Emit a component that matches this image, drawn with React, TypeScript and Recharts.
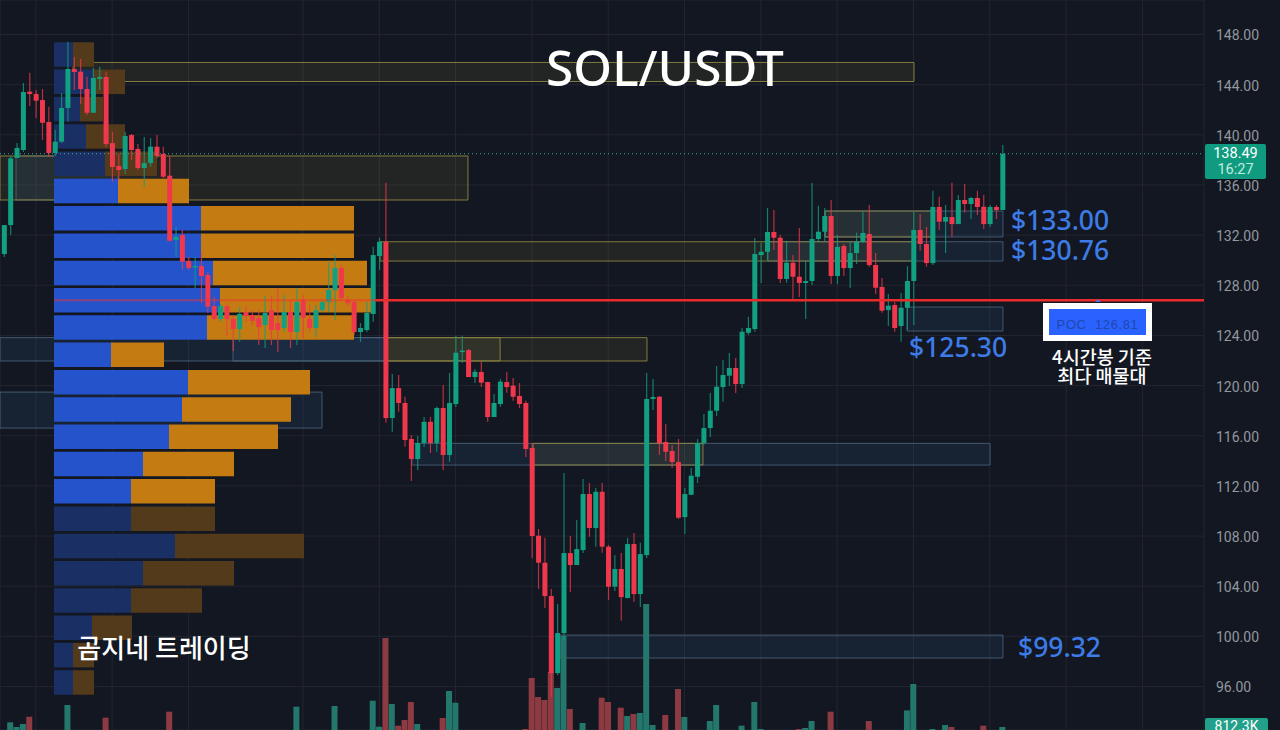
import { Bar, CartesianGrid, Cell, ComposedChart, ReferenceArea, ReferenceLine, XAxis, YAxis } from "recharts";

const opens = [
  130.49, 132.8, 138.15, 138.79, 143.44, 143.25, 142.77, 141.02, 138.55, 139.45,
  142.14, 145.25, 145.03, 143.65, 141.76, 144.45, 144.61, 139.34, 137.51, 137.27,
  139.98, 138.87, 137.35, 137.75, 139.05, 138.47, 136.74, 131.61, 132.01, 129.93,
  129.45, 129.53, 128.82, 126.34, 125.31, 126.34, 125.31, 124.51, 125.87, 125.63,
  125.39, 124.83, 126.02, 124.99, 124.59, 125.87, 124.27, 126.82, 125.31, 124.59,
  126.02, 126.66, 127.62, 129.37, 126.82, 126.66, 124.27, 124.43, 125.71, 130.33,
  131.47, 117.41, 119.8, 118.61, 115.74, 114.14, 115.42, 117.11, 115.42, 118.21,
  114.46, 118.53, 122.67, 122.83, 120.68, 121.08, 120.28, 117.49, 118.53, 120.28,
  119.99, 119.17, 118.61, 115.02, 108.02, 105.87, 103.21, 97.07, 100.26, 106.64,
  105.69, 106.88, 111.35, 108.64, 111.53, 107.15, 103.96, 105.37, 103.05, 107.36,
  103.37, 106.48, 118.93, 119.11, 115.5, 114.78, 113.9, 109.51, 111.29, 112.73,
  115.42, 116.61, 117.99, 119.88, 120.79, 121.4, 120.12, 124.21, 124.51, 130.41,
  130.67, 132.25, 131.79, 128.5, 129.8, 128.68, 128.18, 128.34, 131.69, 132.27,
  133.52, 128.74, 131.13, 129.37, 130.57, 131.47, 132.09, 129.61, 127.86, 126.02,
  126.42, 124.75, 126.21, 128.34, 132.41, 131.29, 129.77, 134.24, 133.07, 133.44,
  132.88, 134.8, 134.48, 134.96, 134.26, 132.88, 134.24, 134.0,
];
const closes = [
  132.8, 138.12, 138.95, 143.41, 143.25, 142.72, 140.96, 138.55, 139.45, 142.14,
  145.25, 145.01, 143.65, 141.76, 144.53, 144.61, 139.26, 137.43, 137.19, 139.9,
  138.79, 137.35, 137.75, 139.05, 138.31, 136.66, 131.55, 131.87, 129.88, 129.37,
  129.53, 128.74, 126.29, 125.31, 126.34, 125.31, 124.51, 125.71, 125.55, 125.15,
  124.67, 125.79, 124.43, 124.43, 125.87, 124.27, 126.66, 125.39, 124.59, 126.02,
  126.66, 127.62, 129.37, 126.98, 126.58, 124.27, 124.59, 125.79, 130.41, 131.47,
  117.41, 119.8, 118.61, 115.66, 114.14, 115.42, 117.11, 115.42, 118.21, 114.46,
  118.61, 122.62, 122.79, 120.68, 121.1, 120.23, 117.49, 118.61, 120.31, 119.88,
  119.11, 118.53, 114.94, 108.0, 105.87, 103.21, 97.07, 100.26, 106.64, 105.69,
  106.96, 111.35, 108.64, 111.53, 107.15, 103.96, 105.37, 103.13, 107.36, 103.37,
  106.56, 118.93, 119.09, 115.42, 114.72, 113.9, 109.46, 111.35, 112.81, 115.42,
  116.61, 117.99, 119.91, 120.84, 121.4, 120.12, 124.29, 124.59, 130.49, 130.67,
  132.25, 131.79, 128.5, 129.8, 128.68, 128.18, 128.34, 131.69, 132.27, 133.52,
  128.74, 131.07, 129.37, 130.57, 131.47, 132.17, 129.61, 127.8, 125.97, 126.37,
  124.59, 126.21, 128.34, 132.41, 131.29, 129.77, 134.24, 133.07, 133.44, 132.88,
  134.8, 134.48, 134.96, 134.24, 132.88, 134.24, 134.0, 138.49,
];
const highs = [
  132.8, 138.31, 139.34, 144.13, 144.95, 143.57, 143.65, 142.24, 140.38, 143.33,
  147.42, 146.2, 146.04, 144.63, 145.33, 145.43, 145.03, 140.25, 138.47, 140.25,
  140.06, 139.26, 139.82, 139.74, 139.98, 139.05, 138.31, 132.67, 132.41, 130.28,
  130.28, 130.57, 129.08, 127.09, 126.5, 126.58, 125.55, 126.26, 126.34, 126.02,
  126.02, 127.14, 127.14, 127.78, 127.22, 126.82, 127.78, 127.22, 126.42, 126.42,
  126.82, 129.85, 130.41, 129.61, 127.14, 126.82, 124.99, 126.66, 131.07, 131.79,
  136.18, 120.92, 120.84, 119.11, 116.05, 115.97, 117.49, 117.51, 118.31, 120.04,
  121.0, 123.95, 123.97, 122.91, 121.32, 121.9, 120.31, 119.32, 120.52, 121.1,
  120.6, 120.2, 118.79, 115.42, 108.56, 107.86, 103.77, 102.58, 113.02, 108.0,
  109.27, 112.55, 112.23, 111.83, 112.23, 107.28, 106.48, 106.64, 107.86, 108.24,
  107.46, 121.0, 120.52, 119.17, 116.93, 115.26, 115.74, 111.83, 113.42, 115.74,
  117.73, 119.41, 121.56, 122.04, 122.59, 122.2, 124.59, 125.49, 131.77, 131.39,
  134.16, 134.0, 132.01, 131.55, 130.41, 132.56, 129.96, 136.15, 134.34, 134.16,
  134.8, 132.01, 131.29, 131.47, 132.19, 133.87, 134.4, 130.57, 128.58, 127.3,
  126.66, 127.38, 129.53, 133.87, 133.68, 132.64, 135.54, 135.06, 134.4, 136.18,
  135.2, 136.07, 135.04, 135.54, 135.2, 134.4, 134.4, 139.18,
];
const lows = [
  130.25, 132.01, 138.15, 138.63, 142.3, 141.34, 139.58, 138.25, 138.31, 139.34,
  141.04, 143.57, 142.46, 141.58, 141.74, 143.57, 139.05, 136.26, 136.39, 136.87,
  137.99, 137.19, 135.86, 137.45, 138.15, 136.55, 131.47, 130.28, 129.22, 129.22,
  127.78, 126.58, 125.79, 125.23, 125.07, 123.95, 122.75, 123.5, 125.07, 124.83,
  123.23, 122.99, 123.23, 122.67, 124.27, 122.99, 123.23, 123.79, 124.27, 123.87,
  125.87, 125.87, 125.23, 126.74, 126.34, 124.03, 123.47, 124.27, 125.09, 129.22,
  117.04, 116.32, 117.91, 115.12, 112.39, 113.26, 115.12, 114.62, 114.72, 113.26,
  113.92, 118.29, 121.82, 120.68, 120.2, 119.88, 117.11, 117.49, 118.31, 119.43,
  118.79, 118.21, 114.3, 106.24, 103.77, 102.26, 95.18, 96.91, 99.7, 103.53,
  105.69, 106.64, 107.94, 107.15, 106.67, 102.89, 103.61, 101.24, 103.05, 102.73,
  102.34, 106.24, 118.05, 114.46, 113.98, 113.42, 109.35, 108.16, 111.29, 112.23,
  115.26, 115.9, 117.57, 118.71, 119.96, 119.4, 119.8, 124.03, 124.29, 128.18,
  129.96, 130.81, 128.18, 128.2, 126.82, 127.06, 125.31, 128.02, 131.47, 131.47,
  128.1, 128.1, 128.74, 127.78, 129.69, 131.37, 129.48, 127.3, 125.81, 124.75,
  124.29, 123.5, 124.43, 124.83, 130.75, 129.48, 129.61, 132.41, 130.57, 131.87,
  132.88, 133.79, 133.28, 133.6, 132.49, 132.67, 133.28, 134.0,
];
// volume in K; the pane is cut off by the crop so small bars don't show
const volumes = [
  0, 2080, 810, 1620, 3590, 0, 0, 0, 0, 0,
  6750, 0, 0, 0, 0, 0, 3320, 0, 0, 0,
  0, 0, 0, 0, 0, 0, 4940, 0, 0, 0,
  0, 0, 0, 0, 0, 0, 0, 0, 0, 0,
  0, 0, 0, 0, 0, 0, 6290, 0, 0, 0,
  0, 0, 6480, 0, 0, 0, 0, 0, 7910, 890,
  24840, 7020, 1160, 2700, 7560, 1620, 0, 0, 0, 3240,
  10530, 7370, 0, 0, 0, 0, 0, 0, 0, 0,
  0, 0, 270, 14040, 8910, 8100, 15660, 11340, 25380, 5670,
  0, 1890, 0, 0, 8720, 7560, 0, 6020, 3780, 4320,
  4590, 34020, 1350, 0, 4050, 0, 11070, 3510, 0, 0,
  0, 2430, 6750, 0, 0, 0, 1160, 0, 7560, 270,
  0, 0, 0, 0, 0, 270, 540, 2430, 0, 0,
  4940, 0, 0, 0, 0, 0, 2430, 0, 0, 0,
  0, 0, 5290, 12420, 0, 0, 270, 0, 1350, 810,
  0, 0, 0, 0, 1160, 0, 0, 812,
];

const priceTicks = [148, 144, 140, 136, 132, 128, 124, 120, 116, 112, 108, 104, 100, 96];
const timeTicks = [5, 17, 29, 47, 59, 71, 83, 95, 107, 119, 131, 143, 155, 167, 179];

// volume profile rows, top to bottom
const profileLevels = [
  146.4, 144.2, 142.0, 139.8, 137.7, 135.5, 133.3, 131.1, 128.9, 126.8, 124.6, 122.4,
  120.2, 118.1, 115.9, 113.7, 111.5, 109.3, 107.1, 105.0, 102.8, 100.6, 98.4, 96.2,
];
const profileUp = [19, 39, 26, 32, 51, 64, 147, 147, 159, 166, 153, 57, 134, 128, 115, 89, 77, 77, 121, 89, 77, 38, 19, 19];
const profileDown = [21, 32, 23, 39, 52, 71, 153, 153, 154, 151, 147, 53, 122, 109, 109, 91, 84, 84, 129, 91, 71, 40, 21, 21];
const profileDim = [1, 1, 1, 1, 1, 0, 0, 0, 0, 0, 0, 0, 0, 0, 0, 0, 0, 1, 1, 1, 1, 1, 1, 1];

// [candle from, candle to, price top, price bottom]
const goldZones = [
  [10.85, 143.08, 145.77, 144.25],
  [-0.63, 72.95, 138.31, 134.8],
  [59.12, 143.24, 131.47, 129.93],
  [129.09, 145.91, 133.92, 131.85],
  [60.22, 78.0, 123.82, 121.96],
  [60.22, 101.1, 123.82, 121.96],
  [83.18, 109.9, 115.39, 113.66],
];
const blueZones = [
  [1.89, 17.92, 138.31, 134.8],
  [-0.63, 59.9, 123.82, 121.96],
  [36.0, 59.9, 123.82, 121.96],
  [-0.63, 50.0, 119.48, 116.61],
  [64.15, 155.04, 115.39, 113.66],
  [87.42, 157.07, 100.1, 98.27],
  [120.13, 157.07, 131.47, 129.93],
  [129.09, 157.07, 133.92, 131.85],
  [141.98, 157.07, 126.26, 124.35],
];

const POC = 126.81;
const LAST_PRICE = 138.49;

const candles = opens.map((open, i) => ({
  index: i,
  open,
  close: closes[i],
  high: highs[i],
  low: lows[i],
  volume: volumes[i],
}));
const profile = profileLevels.map((level, i) => ({
  level,
  up: profileUp[i],
  down: profileDown[i],
  dim: profileDim[i] === 1,
}));

const W = 1280;
const H = 730;
const AXIS_W = 76;
const X_DOMAIN: [number, number] = [-0.63, 188.68];
const PRICE_DOMAIN: [number, number] = [92.53, 150.75];

const GREEN = "#12a083";
const RED = "#f0384c";

function Candle(props: any) {
  const { x, y, width, height, payload } = props;
  const up = payload.close >= payload.open;
  const color = up ? GREEN : RED;
  const perUnit = height / (payload.high - payload.low);
  const top = y + (payload.high - Math.max(payload.open, payload.close)) * perUnit;
  const bodyH = Math.max(Math.abs(payload.open - payload.close) * perUnit, 1.5);
  const mid = x + width / 2;
  return (
    <g>
      <line x1={mid} x2={mid} y1={y} y2={y + height} stroke={color} strokeWidth={1.2} strokeOpacity={0.75} />
      <rect x={x} y={top} width={width} height={bodyH} fill={color} />
    </g>
  );
}

const layer = { position: "absolute", left: 0, top: 0 } as const;
const sans = '"Noto Sans", sans-serif';
const cjk = '"Noto Sans CJK KR", sans-serif';

function Note(props: { x: number; y: number; size: number; color?: string; font?: string; weight?: number; center?: boolean; children: any }) {
  const { x, y, size, color = "#3d7be6", font = sans, weight = 500, center, children } = props;
  return (
    <div
      style={{
        position: "absolute",
        left: x,
        top: y,
        transform: `translate(${center ? "-50%" : "0"}, -50%)`,
        fontFamily: font,
        fontSize: size,
        fontWeight: weight,
        lineHeight: 1,
        color,
        whiteSpace: "nowrap",
      }}
    >
      {children}
    </div>
  );
}

export default function App() {
  return (
    <div style={{ ...layer, width: W, height: H, background: "#131722", overflow: "hidden" }}>
      {/* grid, price scale, volume pane, zones */}
      <ComposedChart style={layer} width={W} height={H} data={candles} margin={{ top: 0, right: 0, bottom: 0, left: 0 }}>
        <CartesianGrid yAxisId="price" stroke="#23262f" strokeWidth={1} />
        <XAxis type="number" dataKey="index" domain={X_DOMAIN} ticks={timeTicks} allowDataOverflow hide />
        <YAxis
          yAxisId="price"
          orientation="right"
          width={AXIS_W}
          domain={PRICE_DOMAIN}
          ticks={priceTicks}
          allowDataOverflow
          axisLine={false}
          tickLine={false}
          tickMargin={6}
          tickFormatter={(v: number) => v.toFixed(2)}
          tick={{ fill: "#94979f", fontSize: 14, fontFamily: "Roboto, sans-serif", textAnchor: "start", dy: 1 }}
        />
        <YAxis yAxisId="vol" domain={[0, 197100]} allowDataOverflow hide />
        {blueZones.map(([x1, x2, y1, y2], i) => (
          <ReferenceArea
            key={`b${i}`}
            yAxisId="price"
            x1={x1}
            x2={x2}
            y1={y1}
            y2={y2}
            fill="#3c74b8"
            fillOpacity={0.12}
            stroke="#4f6880"
            strokeOpacity={0.8}
            ifOverflow="hidden"
          />
        ))}
        {goldZones.map(([x1, x2, y1, y2], i) => (
          <ReferenceArea
            key={`g${i}`}
            yAxisId="price"
            x1={x1}
            x2={x2}
            y1={y1}
            y2={y2}
            fill="#b5ab45"
            fillOpacity={0.1}
            stroke="#8d8642"
            strokeOpacity={0.9}
            ifOverflow="hidden"
          />
        ))}
        <Bar yAxisId="vol" dataKey="volume" barSize={6} isAnimationActive={false}>
          {candles.map((c) => (
            <Cell key={c.index} fill={c.close >= c.open ? "#23776c" : "#8e3a42"} />
          ))}
        </Bar>
      </ComposedChart>

      {/* volume profile */}
      <ComposedChart
        style={layer}
        width={W}
        height={H}
        layout="vertical"
        data={profile}
        margin={{ top: 41.3, right: AXIS_W, bottom: 33.5, left: 54 }}
      >
        <XAxis type="number" domain={[0, 1150]} allowDataOverflow hide />
        <YAxis type="category" dataKey="level" hide />
        <Bar dataKey="up" stackId="profile" barSize={24.5} isAnimationActive={false}>
          {profile.map((row) => (
            <Cell key={row.level} fill={row.dim ? "#1a2f63" : "#2453cb"} />
          ))}
        </Bar>
        <Bar dataKey="down" stackId="profile" barSize={24.5} isAnimationActive={false}>
          {profile.map((row) => (
            <Cell key={row.level} fill={row.dim ? "#533a1b" : "#c47b12"} />
          ))}
        </Bar>
      </ComposedChart>

      {/* candles and levels */}
      <ComposedChart style={layer} width={W} height={H} data={candles} margin={{ top: 0, right: AXIS_W, bottom: 0, left: 0 }}>
        <XAxis type="number" dataKey="index" domain={X_DOMAIN} allowDataOverflow hide />
        <YAxis domain={PRICE_DOMAIN} allowDataOverflow hide />
        <ReferenceLine y={LAST_PRICE} stroke="#3aa898" strokeDasharray="1 3" />
        <Bar
          dataKey={(d: any) => [d.low, d.high]}
          barSize={5}
          shape={<Candle />}
          isAnimationActive={false}
        />
        <ReferenceLine
          segment={[{ x: 7.86, y: POC }, { x: 58.33, y: POC }]}
          stroke="#f5302c"
          strokeOpacity={0.5}
          strokeWidth={2}
        />
        <ReferenceLine
          segment={[{ x: 58.33, y: POC }, { x: X_DOMAIN[1], y: POC }]}
          stroke="#e92b2b"
          strokeWidth={2.4}
        />
      </ComposedChart>

      <Note x={665} y={68} size={49.5} color="#ffffff" center>SOL/USDT</Note>
      <Note x={1011} y={220} size={26.5}>$133.00</Note>
      <Note x={1011} y={250} size={26.5}>$130.76</Note>
      <Note x={909} y={347} size={26.5}>$125.30</Note>
      <Note x={1018} y={647} size={26.5}>$99.32</Note>

      <div
        style={{
          position: "absolute",
          left: 1095,
          top: 299,
          width: 0,
          height: 0,
          borderLeft: "3px solid transparent",
          borderRight: "3px solid transparent",
          borderBottom: "3px solid #3f74d8",
        }}
      />
      <div
        style={{
          position: "absolute",
          left: 1043,
          top: 303,
          width: 97,
          height: 26,
          border: "6px solid #ffffff",
          background: "#2962ff",
          color: "#2347a8",
          fontFamily: '"Liberation Sans", sans-serif',
          fontSize: 13,
          letterSpacing: 0.6,
          lineHeight: "32px",
          textAlign: "center",
          whiteSpace: "pre",
        }}
      >
        {"POC  126.81"}
      </div>
      <Note x={1102} y={356} size={18.5} color="#ffffff" font={cjk} center>4시간봉 기준</Note>
      <Note x={1102} y={375} size={18.5} color="#ffffff" font={cjk} center>최다 매물대</Note>
      <Note x={164} y={647} size={26} color="#ffffff" font={cjk} center>곰지네 트레이딩</Note>

      <div
        style={{
          position: "absolute",
          left: 1205,
          top: 144,
          width: 61,
          height: 35,
          borderRadius: 2,
          background: "#0f9b7f",
          textAlign: "center",
          fontFamily: "Roboto, sans-serif",
          fontSize: 14.5,
          lineHeight: "15.5px",
          paddingTop: 2,
          boxSizing: "border-box",
        }}
      >
        <div style={{ color: "#ffffff" }}>138.49</div>
        <div style={{ color: "#c6e9df" }}>16:27</div>
      </div>
      <div
        style={{
          position: "absolute",
          left: 1205,
          top: 718,
          width: 63,
          height: 16,
          borderRadius: 2,
          background: "#22a08a",
          textAlign: "center",
          color: "#ffffff",
          fontFamily: "Roboto, sans-serif",
          fontSize: 14,
          lineHeight: "16px",
        }}
      >
        812.3K
      </div>
    </div>
  );
}
